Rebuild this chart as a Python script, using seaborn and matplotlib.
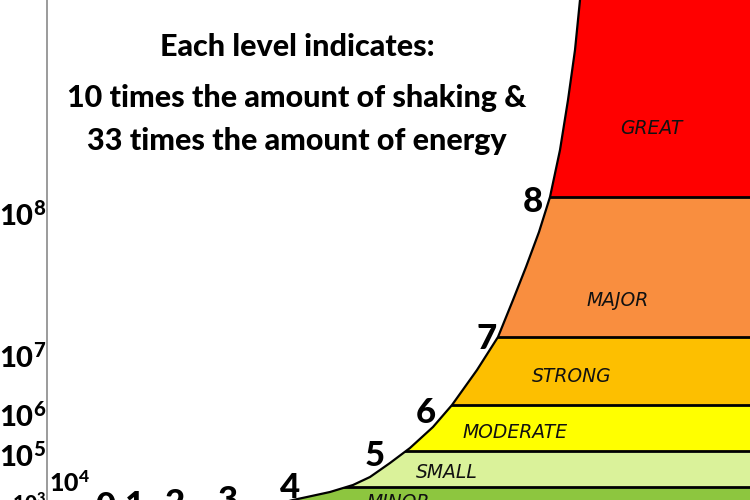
import numpy as np
import matplotlib
matplotlib.use("Agg")
import matplotlib.pyplot as plt
import seaborn as sns

# ---- data ----
levels = ["MINOR", "SMALL", "MODERATE", "STRONG", "MAJOR", "GREAT"]
level_colors = ["#8DC63F", "#DAF29A", "#FFFF00", "#FDBF00", "#F98E3F", "#FF0000"]
band_bottom = [-60, 13, 49, 95, 163, 303]
band_top = [13, 49, 95, 163, 303, 560]
level_label_x = [398, 447, 515, 572, 618, 651]
level_label_y = [-2, 27, 68, 124, 199, 372]

# curve (energy growth)
curve_x = [270, 293, 307, 330, 353, 370, 390, 410, 433, 452, 477, 498, 513, 526, 539, 550, 560, 568, 575, 580, 583]
curve_y = [-6, 0, 3, 8, 15, 23, 37, 52, 73, 95, 130, 163, 200, 233, 268, 303, 350, 400, 450, 500, 530]

magnitudes = ["0", "1", "2", "3", "4", "5", "6", "7", "8"]
mag_x = [105, 135, 175, 228, 290, 375, 426, 487, 533]
mag_y = [-7, -6, -4, -1, 12, 44, 87, 161, 298]

energy_labels = ["3", "4", "5", "6", "7", "8"]
energy_x = [46, 49, 46, 46, 46, 46]
energy_y = [-3, 17, 43, 83, 142, 284]
energy_size = [15, 18, 21, 21, 21, 21]
energy_ha = ["right", "left", "right", "right", "right", "right"]

title_lines = ["Each level indicates:",
               "10 times the amount of shaking &",
               "33 times the amount of energy"]
title_y = [453, 402, 359]

sns.set_theme(style="white")
plt.rcParams["font.family"] = ["Lato", "DejaVu Sans"]

fig = plt.figure(figsize=(7.5, 5), dpi=100)
ax = fig.add_axes([0, 0, 1, 1])
ax.set_xlim(0, 750)
ax.set_ylim(0, 500)
ax.axis("off")

# colour bands
heights = np.array(band_top) - np.array(band_bottom)
ax.barh(band_bottom, 750, height=heights, left=0, align="edge",
        color=level_colors, linewidth=0, zorder=1)
# band boundaries
for b in band_bottom[1:]:
    ax.axhline(b, color="black", lw=2.0, zorder=2)

# white area left of the curve
ax.fill_betweenx(curve_y, 0, curve_x, color="white", lw=0, zorder=3)
sns.lineplot(x=curve_x, y=curve_y, sort=False, estimator=None, color="black",
             lw=1.6, ax=ax, zorder=4)

# left axis line
ax.axvline(47, color="#8a8a8a", lw=1.2, zorder=5)

for lab, x, y in zip(levels, level_label_x, level_label_y):
    ax.text(x, y, lab, ha="center", va="center", fontsize=13.5, style="italic",
            family=["DejaVu Sans"], color="#111111", zorder=6)

for lab, x, y in zip(magnitudes, mag_x, mag_y):
    ax.text(x, y, lab, ha="center", va="center", fontsize=25,
            fontweight="black", color="black", zorder=6)

for lab, x, y, s, ha in zip(energy_labels, energy_x, energy_y, energy_size, energy_ha):
    ax.text(x, y, r"$\mathregular{10^{%s}}$" % lab, ha=ha, va="center",
            fontsize=s, fontweight="black", color="black", zorder=6)

for line, y in zip(title_lines, title_y):
    ax.text(297, y, line, ha="center", va="center", fontsize=22,
            fontweight="black", color="black", zorder=6)

fig.savefig("out.png", dpi=100)
